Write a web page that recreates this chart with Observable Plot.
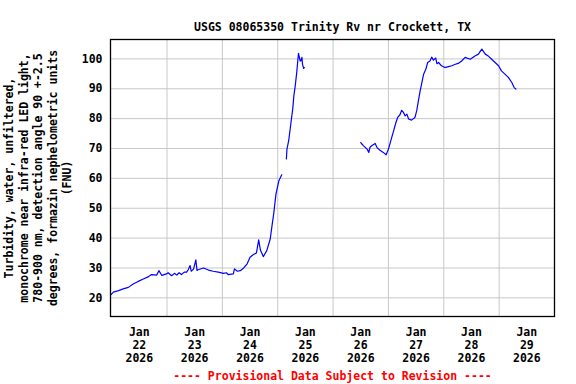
<!DOCTYPE html>
<html>
<head>
<meta charset="utf-8">
<script src="https://cdn.jsdelivr.net/npm/d3@7"></script>
<script src="https://cdn.jsdelivr.net/npm/@observablehq/plot@0.6"></script>
<style>
  html, body { margin: 0; padding: 0; background: #fff; }
</style>
</head>
<body>
<div id="chart"></div>
<script>
const titleText = "USGS 08065350 Trinity Rv nr Crockett, TX";
const yLabel = "Turbidity, water, unfiltered,\nmonochrome near infra-red LED light,\n780-900 nm, detection angle 90 +-2.5\ndegrees, formazin nephelometric units\n(FNU)";
const footer = "---- Provisional Data Subject to Revision ----";

const xDomain = ["2026-01-21T23:30Z", "2026-01-30T00:00Z"];
const yDomain = [13.75, 106.5];
const yTicks = [20, 30, 40, 50, 60, 70, 80, 90, 100];
const gridDays = ["2026-01-23", "2026-01-24", "2026-01-25", "2026-01-26", "2026-01-27", "2026-01-28", "2026-01-29"];
const labelDays = ["2026-01-22", "2026-01-23", "2026-01-24", "2026-01-25", "2026-01-26", "2026-01-27", "2026-01-28", "2026-01-29"];

// Observation times and turbidity values; null marks a gap
const times = [
  "2026-01-21T23:45","2026-01-22T00:45","2026-01-22T03:00","2026-01-22T05:00","2026-01-22T07:15","2026-01-22T09:30",
  "2026-01-22T11:30","2026-01-22T13:45","2026-01-22T16:00","2026-01-22T17:15","2026-01-22T19:30","2026-01-22T20:30",
  "2026-01-22T21:45","2026-01-22T23:45","2026-01-23T00:30","2026-01-23T02:00","2026-01-23T03:15","2026-01-23T04:15",
  "2026-01-23T05:15","2026-01-23T06:15","2026-01-23T07:30","2026-01-23T08:30","2026-01-23T09:15","2026-01-23T10:00",
  "2026-01-23T10:30","2026-01-23T11:30","2026-01-23T12:30","2026-01-23T13:00","2026-01-23T13:30","2026-01-23T15:45",
  "2026-01-23T18:00","2026-01-23T20:00","2026-01-23T22:15","2026-01-24T00:30","2026-01-24T01:45","2026-01-24T02:30",
  "2026-01-24T04:45","2026-01-24T05:15","2026-01-24T06:30","2026-01-24T07:45","2026-01-24T09:15","2026-01-24T10:45",
  "2026-01-24T12:00","2026-01-24T13:30","2026-01-24T14:45","2026-01-24T15:45","2026-01-24T16:30","2026-01-24T17:45",
  "2026-01-24T19:15","2026-01-24T20:45","2026-01-24T21:30","2026-01-24T22:15","2026-01-24T23:15","2026-01-25T00:30",
  "2026-01-25T01:45","2026-01-25T02:45",
  "2026-01-25T03:45","2026-01-25T04:00","2026-01-25T04:45","2026-01-25T05:45","2026-01-25T06:30","2026-01-25T07:00",
  "2026-01-25T07:30","2026-01-25T08:15","2026-01-25T09:00","2026-01-25T09:30","2026-01-25T09:45","2026-01-25T10:00",
  "2026-01-25T10:30","2026-01-25T10:45","2026-01-25T11:15","2026-01-25T11:30","2026-01-26T00:00",
  "2026-01-26T12:00","2026-01-26T12:30","2026-01-26T13:15","2026-01-26T14:45","2026-01-26T15:30","2026-01-26T16:00",
  "2026-01-26T16:45","2026-01-26T18:15","2026-01-26T19:00","2026-01-26T19:30","2026-01-26T20:30","2026-01-26T21:45",
  "2026-01-26T23:00","2026-01-27T00:00","2026-01-27T01:15","2026-01-27T02:15","2026-01-27T03:15","2026-01-27T04:00",
  "2026-01-27T05:00","2026-01-27T05:45","2026-01-27T06:30","2026-01-27T07:15","2026-01-27T08:00","2026-01-27T08:45",
  "2026-01-27T10:00","2026-01-27T11:30","2026-01-27T12:15","2026-01-27T13:00","2026-01-27T13:45","2026-01-27T14:30",
  "2026-01-27T15:15","2026-01-27T16:15","2026-01-27T17:00","2026-01-27T18:00","2026-01-27T18:45","2026-01-27T19:30",
  "2026-01-27T20:30","2026-01-27T21:00","2026-01-27T21:45","2026-01-27T23:00","2026-01-28T00:30","2026-01-28T02:00",
  "2026-01-28T03:30","2026-01-28T05:00","2026-01-28T06:15","2026-01-28T07:45","2026-01-28T09:15","2026-01-28T11:30",
  "2026-01-28T13:30","2026-01-28T15:00","2026-01-28T16:30","2026-01-28T18:00","2026-01-28T19:15","2026-01-28T20:45",
  "2026-01-28T22:15","2026-01-28T23:45","2026-01-29T01:00","2026-01-29T02:30","2026-01-29T04:00","2026-01-29T05:30",
  "2026-01-29T06:30","2026-01-29T07:15"
];
const values = [
  21.1, 21.9, 22.4, 23.0, 23.5, 24.7,
  25.5, 26.3, 27.1, 27.8, 27.6, 29.1,
  27.5, 28.0, 28.4, 27.4, 28.2, 27.6,
  28.4, 27.8, 28.6, 28.6, 29.5, 30.8,
  28.9, 29.6, 32.7, 29.2, 29.4, 30.0,
  29.3, 28.9, 28.6, 28.2, 28.4, 27.8,
  28.0, 29.7, 28.9, 29.1, 30.0, 31.4,
  33.6, 34.5, 35.0, 39.4, 36.0, 33.8,
  35.8, 39.7, 44.0, 48.1, 54.8, 59.2,
  61.2, null,
  66.5, 69.8, 72.6, 78.7, 83.2, 87.7,
  90.4, 95.5, 101.9, 100.1, 99.3, 99.3,
  100.5, 98.2, 96.8, 97.1, null,
  72.0, 71.5, 70.9, 69.8, 68.7, 70.4,
  70.9, 71.7, 70.4, 70.0, 69.3, 68.7,
  67.9, 69.8, 73.2, 75.9, 78.7, 80.4,
  81.3, 82.8, 82.1, 80.9, 81.5, 79.9,
  79.5, 80.4, 82.6, 86.0, 89.3, 92.1,
  94.9, 96.6, 98.8, 99.3, 100.6, 99.6,
  100.3, 98.4, 98.8, 97.7, 97.1, 97.4,
  97.7, 98.2, 98.5, 99.3, 100.5, 99.9,
  101.0, 101.6, 103.3, 101.6, 101.0, 99.9,
  98.8, 97.7, 96.0, 94.9, 93.8, 92.1,
  90.4, 89.9
];

const data = times.map((t, i) => ({date: new Date(t + "Z"), value: values[i]}));
const fmtDay = d3.utcFormat("%d");
const noon = labelDays.map(d => new Date(d + "T12:00Z"));
const mids = gridDays.map(d => new Date(d + "T00:00Z"));

const font = "'DejaVu Sans Mono', monospace";

const chart = Plot.plot({
  width: 576,
  height: 384,
  marginLeft: 110,
  marginRight: 22,
  marginTop: 39,
  marginBottom: 68,
  style: {fontFamily: font, fontSize: "11.5px", fontWeight: "bold", background: "#fff", color: "#000"},
  x: {type: "utc", domain: xDomain.map(d => new Date(d)), axis: null},
  y: {domain: yDomain, axis: null},
  marks: [
    Plot.ruleX(mids, {stroke: "#c8c8c8", strokeWidth: 1, strokeOpacity: 1}),
    Plot.ruleY(yTicks, {stroke: "#c8c8c8", strokeWidth: 1, strokeOpacity: 1}),
    Plot.line(data, {x: "date", y: "value", stroke: "#0000ff", strokeWidth: 1.2}),
    Plot.frame({stroke: "#000", strokeWidth: 1.3}),
    Plot.axisY(yTicks, {tickSize: 0, tickPadding: 8, label: null, fontSize: 11.5, fontWeight: "bold"}),
    Plot.axisX(noon, {
      tickSize: 0, tickPadding: 11, label: null, lineHeight: 1.1,
      tickFormat: d => "Jan\n" + fmtDay(d) + "\n" + d.getUTCFullYear(),
      fontSize: 11.5, fontWeight: "bold"
    }),
    Plot.text([titleText], {frameAnchor: "top", dy: -17, fontSize: 11.5, fontWeight: "bold", fill: "#000"}),
    Plot.text([footer], {frameAnchor: "bottom", dy: 63, fontSize: 11.5, fontWeight: "bold", fill: "#ff0000"}),
    Plot.text([yLabel], {frameAnchor: "left", dx: -73, rotate: -90, textAnchor: "middle", lineAnchor: "middle", lineHeight: 1.26, fontSize: 11.5, fontWeight: "bold", fill: "#000"})
  ]
});
document.getElementById("chart").appendChild(chart);
</script>
</body>
</html>
